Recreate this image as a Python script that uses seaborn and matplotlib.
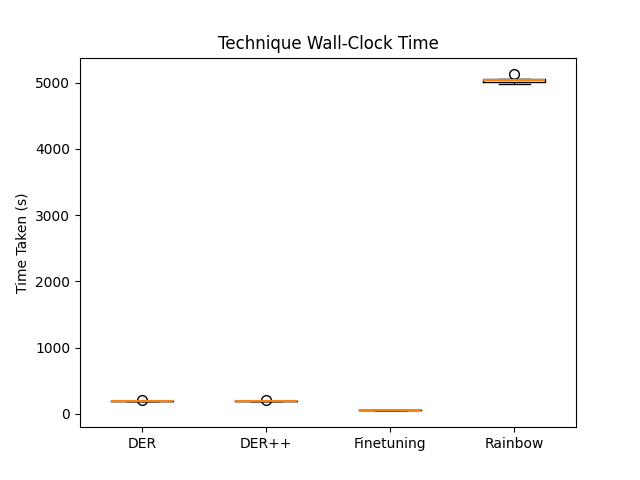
import pandas as pd
import seaborn as sns
import matplotlib.pyplot as plt

techniques = ['DER', 'DER++', 'Finetuning', 'Rainbow']
der_times = [194, 195, 195, 196, 196, 197, 205]
derpp_times = [194, 195, 196, 196, 197, 198, 206]
finetuning_times = [52, 53, 54, 55, 56, 57]
rainbow_times = [4975, 5010, 5020, 5035, 5045, 5055, 5125]

df = pd.DataFrame({
    'technique': (['DER'] * len(der_times) + ['DER++'] * len(derpp_times)
                  + ['Finetuning'] * len(finetuning_times)
                  + ['Rainbow'] * len(rainbow_times)),
    'time': der_times + derpp_times + finetuning_times + rainbow_times,
})

fig, ax = plt.subplots(figsize=(6.4, 4.8), dpi=100)
sns.boxplot(data=df, x='technique', y='time', order=techniques, ax=ax,
            fill=False, color='black', linecolor='black', linewidth=1,
            width=0.5, whis=1.5,
            medianprops={'color': '#ff7f0e', 'linewidth': 1.5},
            flierprops={'marker': 'o', 'markersize': 7,
                        'markerfacecolor': 'none', 'markeredgecolor': 'black'})
ax.set_title('Technique Wall-Clock Time')
ax.set_xlabel('')
ax.set_ylabel('Time Taken (s)')
ax.set_xlim(-0.5, 3.5)
fig.savefig('out.png')
